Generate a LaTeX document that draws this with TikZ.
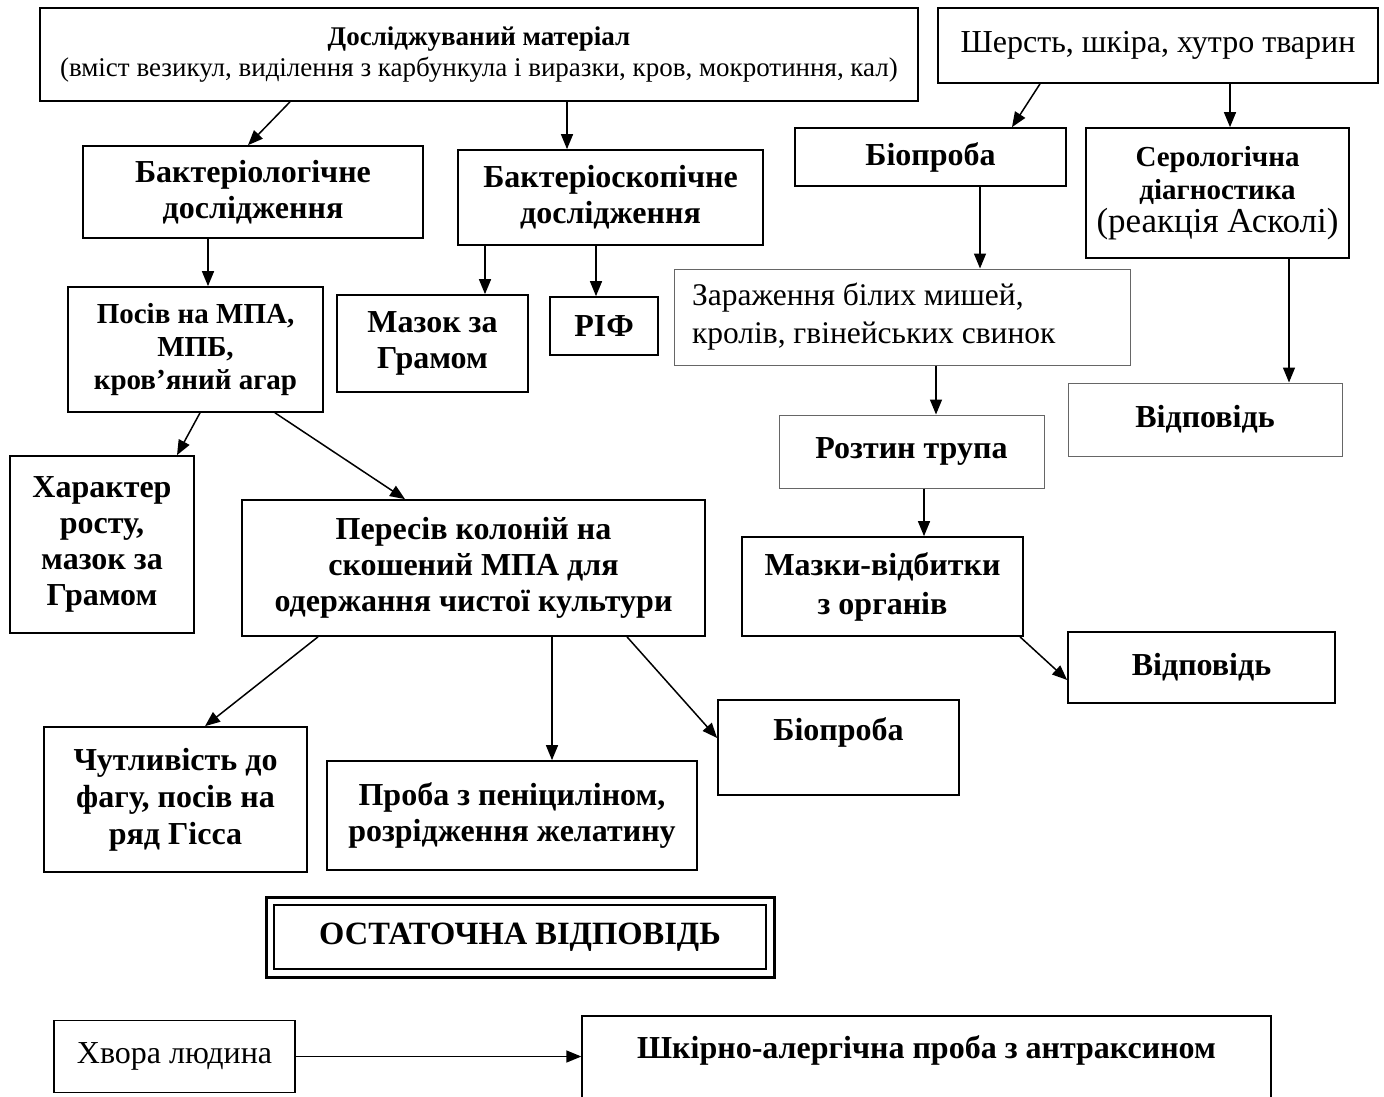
\documentclass[tikz,border=0pt]{standalone}
\usepackage{fontspec}
\setmainfont{Liberation Serif}
\usetikzlibrary{arrows.meta}
\begin{document}
\begin{tikzpicture}[x=1pt,y=-1pt,
  box/.style={draw=black, line width=1.7pt, rectangle, inner sep=0pt, align=center,
    font=\fontsize{32}{36}\selectfont\bfseries},
  greybox/.style={box, draw=black!60, line width=1pt},
  arr/.style={line width=1.5pt, -{Triangle[length=15pt,width=12pt]}},
  reg/.style={font=\fontsize{32}{36}\selectfont}
]
\useasboundingbox (0,0) rectangle (1384,1097);
% top row
\node[box, minimum width=878pt, minimum height=93pt, font=\fontsize{27}{31}\selectfont] (mat) at (479,54.5)
  {\textbf{Досліджуваний матеріал}\\(вміст везикул, виділення з карбункула і виразки, кров, мокротиння, кал)};
\node[box, reg, minimum width=440pt, minimum height=75pt] (wool) at (1158,45.5) {Шерсть, шкіра, хутро тварин};
\node[box, minimum width=340pt, minimum height=92pt] (bakt) at (253,192) {Бактеріологічне\\дослідження};
\node[box, minimum width=305pt, minimum height=95pt] (bsk) at (610.5,197.5) {Бактеріоскопічне\\дослідження};
\node[box, minimum width=271pt, minimum height=58pt] (bio1) at (930.5,157) {Біопроба};
\node[box, minimum width=263pt, minimum height=130pt, font=\fontsize{29}{33}\selectfont\bfseries] (sero) at (1217.5,193)
  {Серологічна\\діагностика\\{\mdseries\fontsize{35}{39}\selectfont(реакція Асколі)}};
% second level
\node[box, minimum width=255pt, minimum height=125pt, font=\fontsize{29}{33}\selectfont\bfseries] (posiv) at (195.5,349.5)
  {Посів на МПА,\\МПБ,\\кров’яний агар};
\node[box, minimum width=191pt, minimum height=97pt] (mazok) at (432.5,343.5) {Мазок за\\Грамом};
\node[box, minimum width=108pt, minimum height=58pt] (rif) at (604,326) {РІФ};
\node[greybox, font=\fontsize{31.5}{38}\selectfont, minimum width=456pt, minimum height=96pt] (zar) at (902,317)
  {\makebox[420pt][l]{\begin{tabular}{@{}l@{}}Зараження білих мишей,\\кролів, гвінейських свинок\end{tabular}}};
\node[greybox, minimum width=274pt, minimum height=73pt] (vid1) at (1205,419.5) {Відповідь};
\node[greybox, minimum width=265pt, minimum height=73pt] (rozt) at (911.5,451.5) {Розтин трупа};
% third level
\node[box, minimum width=184pt, minimum height=177pt] (khar) at (102,544.5)
  {Характер\\росту,\\мазок за\\Грамом};
\node[box, minimum width=463pt, minimum height=136pt] (peres) at (473.5,568)
  {Пересів колоній на\\скошений МПА для\\одержання чистої культури};
\node[box, minimum width=281pt, minimum height=99pt, font=\fontsize{32}{39}\selectfont\bfseries] (mazky) at (882.5,586.5)
  {Мазки-відбитки\\з органів};
\node[box, minimum width=267pt, minimum height=71pt] (vid2) at (1201.5,667.5) {Відповідь};
% fourth level
\node[box, minimum width=263pt, minimum height=145pt, font=\fontsize{32}{37}\selectfont\bfseries] (chut) at (175.5,799.5)
  {Чутливість до\\фагу, посів на\\ряд Гісса};
\node[box, minimum width=370pt, minimum height=109pt, font=\fontsize{32}{36}\selectfont\bfseries] (proba) at (512,815.5)
  {Проба з пеніциліном,\\розрідження желатину};
\node[box, minimum width=241pt, minimum height=95pt] (bio2) at (838.5,747.5) {Біопроба\\\mbox{}};
% final
\node[draw=black, line width=3pt, minimum width=508pt, minimum height=80pt, inner sep=0pt] (final) at (520,937) {};
\node[draw=black, line width=2.4pt, minimum width=492pt, minimum height=64pt, inner sep=0pt,
  font=\fontsize{32.5}{36}\selectfont\bfseries] (finalin) at (final.center) {ОСТАТОЧНА ВІДПОВІДЬ};
% bottom row
\node[box, reg, minimum width=241pt, minimum height=72pt, line width=1.3pt] (khvora) at (174.5,1056.5)
  {Хвора людина};
\node[box, minimum width=689pt, minimum height=98pt, line width=1.3pt] (shkir) at (926.5,1065)
  {Шкірно-алергічна проба з антраксином\\\mbox{}};
% arrows
\draw[arr] (mat.south -| 290,0) -- (bakt.north -| 248,0);
\draw[arr] (mat.south -| 567,0) -- (bsk.north -| 567,0);
\draw[arr] (wool.south -| 1040,0) -- (bio1.north -| 1012,0);
\draw[arr] (wool.south -| 1230,0) -- (sero.north -| 1230,0);
\draw[arr] (bakt.south -| 208,0) -- (posiv.north -| 208,0);
\draw[arr] (bsk.south -| 485,0) -- (mazok.north -| 485,0);
\draw[arr] (bsk.south -| 596,0) -- (rif.north -| 596,0);
\draw[arr] (bio1.south -| 980,0) -- (zar.north -| 980,0);
\draw[arr] (sero.south -| 1289,0) -- (vid1.north -| 1289,0);
\draw[arr] (zar.south -| 936,0) -- (rozt.north -| 936,0);
\draw[arr] (posiv.south -| 200,0) -- (khar.north -| 177,0);
\draw[arr] (posiv.south -| 275,0) -- (peres.north -| 405,0);
\draw[arr] (rozt.south -| 924,0) -- (mazky.north -| 924,0);
\draw[arr] (mazky.south -| 1020,0) -- (vid2.west |- 0,680);
\draw[arr] (peres.south -| 318,0) -- (chut.north -| 205,0);
\draw[arr] (peres.south -| 552,0) -- (proba.north -| 552,0);
\draw[arr] (peres.south -| 627,0) -- (bio2.west |- 0,738);
\draw[arr] (khvora.east) -- (shkir.west |- khvora.east);
\end{tikzpicture}
\end{document}
